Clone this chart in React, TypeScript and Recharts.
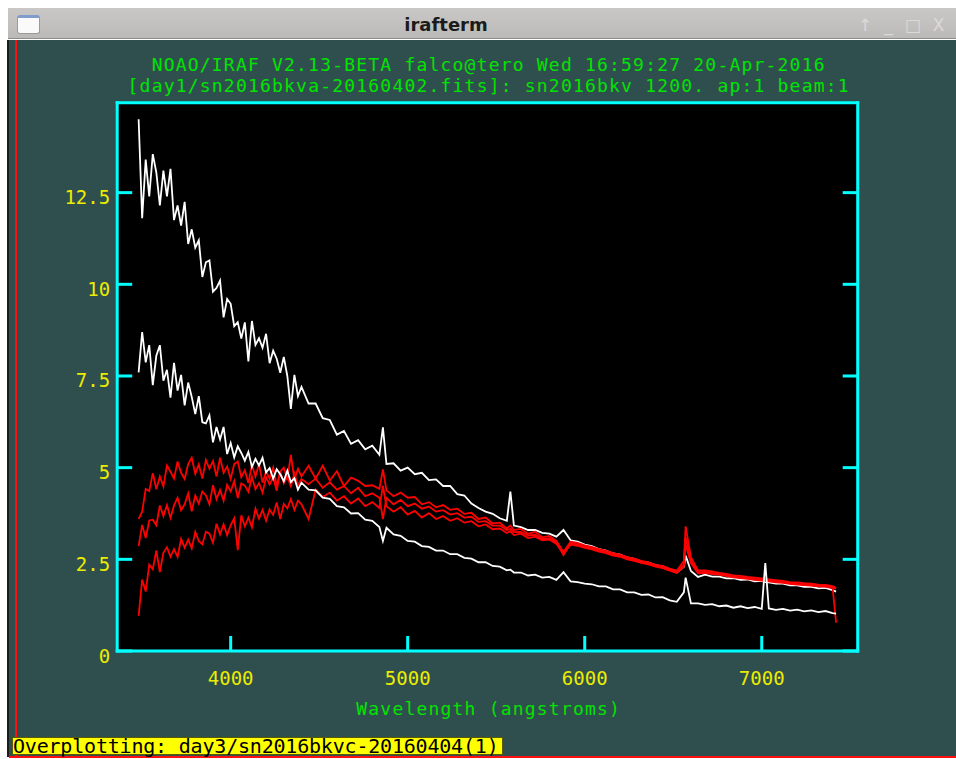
import { LineChart, Line, XAxis, YAxis, CartesianGrid } from 'recharts'

// wavelength grid (angstroms)
const WAVE = [
  3480, 3500, 3520, 3540, 3560, 3580, 3600, 3620, 3640, 3660,
  3680, 3700, 3720, 3740, 3760, 3780, 3800, 3820, 3840, 3860,
  3880, 3900, 3920, 3940, 3960, 3980, 4000, 4020, 4040, 4060,
  4080, 4100, 4120, 4140, 4160, 4180, 4200, 4220, 4240, 4260,
  4280, 4300, 4320, 4340, 4360, 4380, 4400, 4440, 4480, 4520,
  4560, 4600, 4640, 4680, 4720, 4760, 4800, 4840, 4860, 4880,
  4920, 4960, 5000, 5040, 5080, 5120, 5160, 5200, 5240, 5280,
  5320, 5360, 5400, 5440, 5480, 5520, 5560, 5580, 5600, 5640,
  5680, 5720, 5760, 5800, 5840, 5880, 5920, 5960, 6000, 6040,
  6080, 6120, 6160, 6200, 6240, 6280, 6320, 6360, 6400, 6440,
  6480, 6520, 6560, 6570, 6600, 6640, 6680, 6720, 6760, 6800,
  6840, 6880, 6920, 6960, 7000, 7020, 7040, 7080, 7120, 7160,
  7200, 7240, 7280, 7320, 7360, 7400, 7420,
]

// day1 spectrum (white, upper)
const W1 = [
  14.5, 11.8, 13.4, 12.4, 13.55, 13.05, 12.15, 13.1, 12.4, 13.15,
  11.75, 12.15, 11.6, 12.25, 11.1, 11.5, 11.0, 11.2, 10.2, 10.6,
  10.65, 9.8, 9.9, 10.1, 9.1, 9.6, 9.47, 8.86, 8.97, 8.52,
  8.96, 7.9, 9.0, 8.35, 8.53, 8.27, 8.65, 7.85, 8.19, 7.97,
  7.59, 8.02, 7.5, 6.6, 7.53, 6.95, 7.2, 6.75, 6.75, 6.35,
  6.3, 5.9, 6.0, 5.65, 5.75, 5.5, 5.6, 5.35, 6.1, 5.1,
  5.12, 4.92, 5.0, 4.82, 4.86, 4.66, 4.68, 4.5, 4.5, 4.28,
  4.24, 4.02, 3.9, 3.8, 3.74, 3.62, 3.55, 4.35, 3.42, 3.38,
  3.3, 3.3, 3.22, 3.2, 3.12, 3.3, 3.02, 2.98, 2.9, 2.86,
  2.78, 2.74, 2.66, 2.63, 2.55, 2.51, 2.44, 2.41, 2.34, 2.31,
  2.22, 2.14, 2.3, 2.6, 2.18, 2.02, 2.08, 2.03, 2.03, 1.98,
  1.99, 1.94, 1.95, 1.9, 1.91, 1.88, 1.87, 1.84, 1.84, 1.79,
  1.79, 1.75, 1.75, 1.71, 1.72, 1.66, 1.62,
]

// second white spectrum (lower)
const W2 = [
  7.6, 8.7, 7.87, 8.34, 7.25, 8.05, 8.34, 7.37, 7.67, 6.91,
  7.86, 7.1, 7.53, 6.7, 7.32, 6.93, 6.46, 6.95, 6.24, 6.21,
  6.43, 5.69, 6.11, 5.77, 6.11, 5.37, 5.67, 5.28, 5.58, 5.4,
  5.19, 5.43, 5.02, 5.24, 5.06, 5.27, 4.87, 4.99, 4.7, 4.96,
  4.82, 4.63, 4.92, 4.61, 4.71, 4.4, 4.59, 4.4, 4.38, 4.18,
  4.15, 3.95, 3.92, 3.75, 3.76, 3.58, 3.55, 3.38, 3.0, 3.36,
  3.18, 3.14, 3.0, 2.98, 2.86, 2.84, 2.74, 2.74, 2.64, 2.64,
  2.54, 2.52, 2.42, 2.42, 2.32, 2.3, 2.2, 2.22, 2.14, 2.14,
  2.06, 2.08, 2.0, 2.02, 1.94, 2.15, 1.9, 1.88, 1.84, 1.82,
  1.76, 1.76, 1.68, 1.68, 1.6, 1.6, 1.53, 1.54, 1.46, 1.47,
  1.38, 1.34, 1.6, 2.0, 1.3, 1.3, 1.26, 1.28, 1.22, 1.24,
  1.18, 1.22, 1.17, 1.2, 1.15, 2.4, 1.16, 1.12, 1.15, 1.1,
  1.13, 1.08, 1.11, 1.06, 1.09, 1.03, 1.02,
]

// overplotted red spectra
const R1 = [
  3.6, 3.8, 4.42, 4.36, 4.85, 4.41, 4.76, 4.49, 5.06, 4.89,
  4.7, 5.17, 4.86, 4.69, 5.1, 5.27, 4.83, 5.09, 4.7, 5.21,
  4.97, 5.18, 4.76, 5.27, 4.86, 5.03, 4.69, 5.1, 5.17, 4.74,
  4.93, 4.58, 5.08, 4.76, 5.1, 4.59, 4.9, 4.7, 5.0, 4.51,
  4.89, 5.0, 4.69, 5.35, 4.67, 4.97, 4.76, 5.05, 4.7, 5.05,
  4.65, 4.9, 4.5, 4.73, 4.64, 4.5, 4.52, 4.42, 4.95, 4.38,
  4.22, 4.32, 4.18, 4.2, 4.0, 4.06, 3.92, 3.98, 3.85, 3.88,
  3.74, 3.77, 3.6, 3.64, 3.48, 3.5, 3.34, 3.42, 3.3, 3.33,
  3.2, 3.25, 3.1, 3.14, 3.0, 2.7, 2.98, 2.95, 2.88, 2.84,
  2.78, 2.74, 2.67, 2.63, 2.56, 2.52, 2.46, 2.42, 2.35, 2.32,
  2.25, 2.19, 2.45, 3.4, 2.55, 2.2, 2.2, 2.17, 2.13, 2.1,
  2.06, 2.05, 2.02, 2.0, 1.98, 1.97, 1.95, 1.93, 1.91, 1.88,
  1.87, 1.85, 1.84, 1.81, 1.8, 1.77, 1.72,
]

const R2 = [
  2.86, 3.44, 3.08, 3.56, 3.58, 3.43, 3.97, 3.68, 3.98, 3.63,
  3.97, 4.18, 3.84, 4.0, 4.3, 3.81, 4.24, 4.02, 4.35, 4.24,
  4.0, 4.52, 4.14, 4.39, 4.1, 4.53, 4.35, 4.64, 4.17, 4.57,
  4.51, 4.34, 4.75, 4.41, 4.58, 4.32, 4.74, 4.54, 4.73, 4.37,
  4.9, 4.57, 4.75, 4.49, 4.84, 4.52, 4.69, 4.55, 4.7, 4.45,
  4.6, 4.4, 4.5, 4.3, 4.45, 4.22, 4.3, 4.18, 3.6, 4.18,
  4.0, 4.12, 3.95, 4.02, 3.88, 3.94, 3.8, 3.84, 3.72, 3.76,
  3.64, 3.66, 3.52, 3.54, 3.42, 3.42, 3.3, 3.33, 3.24, 3.25,
  3.15, 3.17, 3.06, 3.08, 2.96, 2.62, 2.94, 2.9, 2.84, 2.8,
  2.74, 2.7, 2.63, 2.6, 2.52, 2.49, 2.42, 2.39, 2.32, 2.28,
  2.21, 2.15, 2.35, 3.1, 2.45, 2.15, 2.16, 2.13, 2.1, 2.06,
  2.03, 2.01, 1.99, 1.96, 1.94, 1.93, 1.92, 1.89, 1.88, 1.85,
  1.83, 1.82, 1.8, 1.78, 1.77, 1.74, 0.77,
]

const R3 = [
  0.96, 1.95, 1.62, 2.36, 2.23, 2.74, 2.15, 2.68, 2.83, 2.57,
  2.78, 2.57, 3.06, 2.82, 3.04, 2.8, 3.25, 3.0, 2.91, 3.25,
  3.2, 2.95, 3.47, 3.18, 3.45, 3.16, 3.43, 3.62, 2.75, 3.7,
  3.4, 3.64, 3.37, 3.88, 3.61, 3.85, 3.55, 3.86, 3.71, 4.05,
  3.6, 4.01, 3.89, 4.14, 3.85, 4.1, 4.0, 3.6, 4.4, 4.2,
  4.32, 4.1, 4.22, 4.02, 4.16, 3.95, 4.06, 3.9, 4.5, 3.95,
  3.8, 3.92, 3.72, 3.82, 3.64, 3.76, 3.6, 3.68, 3.55, 3.62,
  3.5, 3.54, 3.4, 3.45, 3.32, 3.34, 3.22, 3.27, 3.16, 3.2,
  3.08, 3.12, 3.02, 3.04, 2.92, 2.66, 2.9, 2.87, 2.81, 2.77,
  2.71, 2.67, 2.6, 2.57, 2.5, 2.46, 2.4, 2.36, 2.3, 2.26,
  2.19, 2.13, 2.3, 2.9, 2.4, 2.12, 2.13, 2.1, 2.08, 2.04,
  2.01, 1.99, 1.97, 1.94, 1.92, 1.91, 1.9, 1.87, 1.86, 1.83,
  1.81, 1.8, 1.78, 1.76, 1.75, 1.72, 1.7,
]

const X_TICKS = [4000, 5000, 6000, 7000]
const Y_TICKS = [0, 2.5, 5, 7.5, 10, 12.5]
const Y_LABELS = ['0', '2.5', '5', '7.5', '10', '12.5']
const X_DOMAIN = [3359, 7542]
const Y_DOMAIN = [0, 14.95]

const CYAN = '#00ffff'
const YELLOW = '#ecec00'
const GREEN = '#00e400'
const TEAL = '#2f4f4f'
const MONO = '"DejaVu Sans Mono", monospace'

const rows = WAVE.map((w, i) => ({ w, w1: W1[i], w2: W2[i], r1: R1[i], r2: R2[i], r3: R3[i] }))

function LeftTick(props: any) {
  const { x, y, payload } = props
  const label = Y_LABELS[Y_TICKS.indexOf(payload.value)]
  return (
    <g>
      <line x1={x} y1={y} x2={x + 15} y2={y} stroke={CYAN} strokeWidth={3} />
      <text x={x - 7} y={y + 11.5} textAnchor="end" fill={YELLOW} fontSize={19} fontFamily={MONO}>{label}</text>
    </g>
  )
}

function RightTick(props: any) {
  const { x, y } = props
  return <line x1={x} y1={y} x2={x - 15} y2={y} stroke={CYAN} strokeWidth={3} />
}

function BottomTick(props: any) {
  const { x, y, payload } = props
  return (
    <g>
      <line x1={x} y1={y} x2={x} y2={y - 15} stroke={CYAN} strokeWidth={3} />
      <text x={x} y={y + 34} textAnchor="middle" fill={YELLOW} fontSize={19} fontFamily={MONO}>{payload.value}</text>
    </g>
  )
}

function TopTick(props: any) {
  const { x, y } = props
  return <line x1={x} y1={y} x2={x} y2={y + 15} stroke={CYAN} strokeWidth={3} />
}

const axisLine = { stroke: CYAN, strokeWidth: 3, strokeLinecap: 'square' as const }

function abs(left: number, top: number, width: number, height: number, extra: any = {}) {
  return { position: 'absolute' as const, left, top, width, height, ...extra }
}

const greenText = { textAlign: 'center', font: `18px ${MONO}`, lineHeight: '18px', letterSpacing: 1.2, color: GREEN, whiteSpace: 'pre' }

export default function App() {
  return (
    <div style={{ position: 'absolute', left: 0, top: 0, width: 956, height: 759, background: '#fff', overflow: 'hidden' }}>
      {/* title bar */}
      <div style={abs(8, 8, 948, 31, { background: 'linear-gradient(#cac8c6, #bcbab8)', borderBottom: '1px solid #8e8c8a', boxSizing: 'border-box' })} />
      <div style={abs(17, 15, 23, 19, { background: '#fafafa', border: '1px solid #9a9a9a', borderTop: '3px solid #7f9ccc', borderRadius: 3, boxSizing: 'border-box' })} />
      <div style={abs(0, 12, 892, 26, { textAlign: 'center', font: 'bold 18px "DejaVu Sans", sans-serif', lineHeight: '26px', color: '#1b1b1b' })}>irafterm</div>
      <div style={abs(858, 13, 98, 24, { font: '17px "DejaVu Sans", sans-serif', lineHeight: '24px', color: '#dcdad8', display: 'flex', gap: 12 })}>
        <span>↑</span><span>_</span><span>□</span><span>X</span>
      </div>

      {/* terminal area */}
      <div style={abs(9, 40, 947, 717, { background: TEAL })} />
      <div style={abs(7, 40, 2, 717, { background: '#1c1c1c' })} />
      <div style={abs(15, 40, 2, 717, { background: '#ff1010' })} />
      <div style={abs(9, 756, 947, 2, { background: '#ff1010' })} />

      <div style={abs(1.2, 56.3, 975, 18, greenText)}>
        NOAO/IRAF V2.13-BETA falco@tero Wed 16:59:27 20-Apr-2016
      </div>
      <div style={abs(1.2, 77.3, 975, 18, greenText)}>
        [day1/sn2016bkva-20160402.fits]: sn2016bkv 1200. ap:1 beam:1
      </div>

      <div style={{ position: 'absolute', left: 0, top: 0 }}>
        <LineChart width={956} height={759} data={rows} margin={{ top: 0, right: 0, bottom: 0, left: 0 }}>
          <CartesianGrid fill="#000" horizontal={false} vertical={false} />
          <XAxis dataKey="w" type="number" domain={X_DOMAIN} allowDataOverflow ticks={X_TICKS} interval={0}
            height={108} tickSize={0} tickMargin={0} tickLine={false} axisLine={axisLine} tick={<BottomTick />} />
          <XAxis xAxisId="t" orientation="top" type="number" domain={X_DOMAIN} allowDataOverflow ticks={X_TICKS} interval={0}
            height={102.8} tickSize={0} tickMargin={0} tickLine={false} axisLine={axisLine} tick={<TopTick />} />
          <YAxis type="number" domain={Y_DOMAIN} allowDataOverflow ticks={Y_TICKS} interval={0}
            width={117.2} tickSize={0} tickMargin={0} tickLine={false} axisLine={axisLine} tick={<LeftTick />} />
          <YAxis yAxisId="r" orientation="right" type="number" domain={Y_DOMAIN} allowDataOverflow ticks={Y_TICKS} interval={0}
            width={98.3} tickSize={0} tickMargin={0} tickLine={false} axisLine={axisLine} tick={<RightTick />} />
          <Line type="linear" dataKey="w1" stroke="#ffffff" strokeWidth={1.8} dot={false} isAnimationActive={false} />
          <Line type="linear" dataKey="r1" stroke="#ff0000" strokeWidth={1.8} dot={false} isAnimationActive={false} />
          <Line type="linear" dataKey="r2" stroke="#ff0000" strokeWidth={1.8} dot={false} isAnimationActive={false} />
          <Line type="linear" dataKey="r3" stroke="#ff0000" strokeWidth={1.8} dot={false} isAnimationActive={false} />
          <Line type="linear" dataKey="w2" stroke="#ffffff" strokeWidth={1.8} dot={false} isAnimationActive={false} />
        </LineChart>
      </div>

      <div style={abs(1.2, 699.8, 975, 18, greenText)}>
        Wavelength (angstroms)
      </div>

      <div style={abs(12, 737, 491, 18, { background: '#ffff00', border: '1px solid #5a5a00', boxSizing: 'border-box' })} />
      <div style={abs(13, 737, 490, 18, { font: `20px ${MONO}`, lineHeight: '18px', letterSpacing: -0.2, color: '#000', whiteSpace: 'pre' })}>
        Overplotting: day3/sn2016bkvc-20160404(1)
      </div>
    </div>
  )
}
